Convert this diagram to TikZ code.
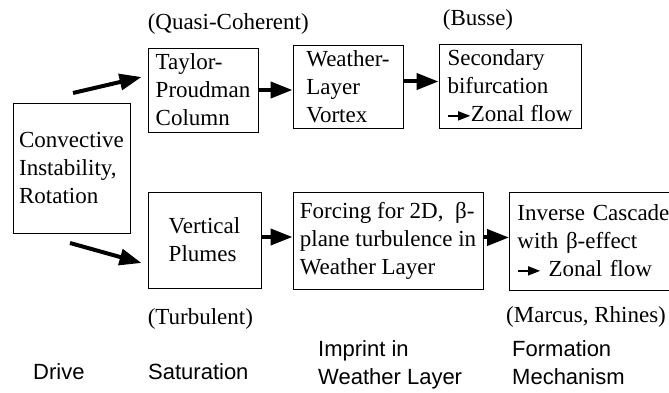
\documentclass[tikz,border=0pt]{standalone}
\usepackage{fontspec}
\setmainfont{Liberation Serif}
\setsansfont{Liberation Sans}
\usetikzlibrary{arrows.meta,positioning,calc}

\newcommand{\zonalarrow}{\tikz[baseline=-6pt]\draw[line width=1.4pt,
  -{Triangle[length=12pt, width=9pt]}] (0pt,0pt) -- (22pt,0pt);}

\begin{document}
\begin{tikzpicture}[x=1pt, y=1pt,
  box/.style={draw, line width=0.9pt, align=left, inner sep=3pt,
              font=\fontsize{23}{28}\selectfont},
  note/.style={inner sep=0pt, font=\fontsize{23}{28}\selectfont},
  stage/.style={inner sep=0pt, align=left, anchor=base west,
                font=\sffamily\fontsize{22}{28}\selectfont},
  arr/.style={-{Triangle[length=22pt, width=16pt]}, line width=4pt}
]
\clip (0,0) rectangle (669,393);

% Drive
\node[box, minimum width=117pt, minimum height=130pt] (drive) at (71.5,225)
     {Convective\\Instability,\\Rotation};

% Quasi-coherent route
\node[box, minimum width=110pt, minimum height=84pt] (taylor) at (203,303)
     {Taylor-\\Proudman\\Column};
\node[note, above right=13pt and 0pt of taylor.north west] (qc) {(Quasi-Coherent)};

\node[box, minimum width=110pt, minimum height=83pt] (vortex) at (348,306.5)
     {Weather-\\Layer\\Vortex};

\node[box, minimum width=142pt, minimum height=84pt] (busse) at (510,307)
     {Secondary\\bifurcation\\\zonalarrow Zonal flow};
\node[note, above=13pt of busse.north, xshift=-32pt] (bussenote) {(Busse)};

% Turbulent route
\node[box, minimum width=113pt, minimum height=96pt] (plumes) at (204.5,153)
     {Vertical\\Plumes};
\node[note, below right=20pt and 0pt of plumes.south west] (turb) {(Turbulent)};

\node[box, minimum width=190pt, minimum height=97pt] (forcing) at (388,152.5)
     {Forcing for 2D,~ β-\\plane turbulence in\\Weather Layer};

\node[box, anchor=west, inner xsep=8pt, text width=152pt,
      minimum height=98pt] (cascade) at (509,152)
     {Inverse Cascade\\with β-effect\\\zonalarrow{} Zonal flow};
\node[note, below right=16pt and -3pt of cascade.south west] (marcus) {(Marcus, Rhines)};

% arrows
\coordinate (d1) at (73,300);
\coordinate (d2) at (70,150);
\draw[arr] (d1) -- ([shift={(-6,13)}]taylor.west);
\draw[arr] (d2) -- ([shift={(-6,-23)}]plumes.west);
\draw[arr] (taylor.east) -- (taylor.east -| vortex.west);
\draw[arr] ([yshift=5]vortex.east) -- ([yshift=5]vortex.east -| busse.west);
\draw[arr] ([yshift=3]plumes.east) -- ([yshift=3]plumes.east -| forcing.west);
\draw[arr] ([yshift=3]forcing.east) -- ([yshift=3]forcing.east -| cascade.west);

% Stage labels
\node[stage] (drivelbl) at (33,13) {Drive};
\node[stage] (satlbl) at (148,13) {Saturation};
\node[stage] (implbl) at (318,8) {Imprint in\\Weather Layer};
\node[stage] (formlbl) at (512,8) {Formation\\Mechanism};

\end{tikzpicture}
\end{document}
